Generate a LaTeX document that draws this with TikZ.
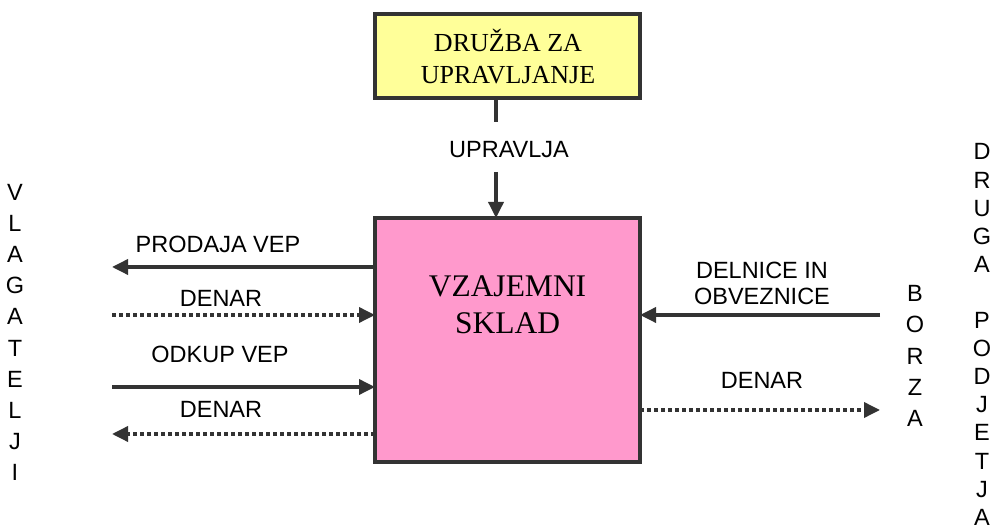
\documentclass[tikz,border=0pt]{standalone}
\usepackage{fontspec}
\setmainfont{Liberation Sans}
\newfontfamily\serifbox{Liberation Serif}
\usetikzlibrary{arrows.meta}
\definecolor{edge}{HTML}{333333}
\definecolor{boxyellow}{HTML}{FFFF99}
\definecolor{boxpink}{HTML}{FF99CC}
\tikzset{
  x=1pt, y=1pt,
  lbl/.style={font=\fontsize{23.5}{26}\selectfont, inner sep=0pt, align=center},
  vcol/.style={inner sep=0pt, align=center},
  mainbox/.style={draw=edge, line width=4pt, inner sep=0pt},
  flow/.style={draw=edge, line width=3.5pt, -{Triangle[length=16pt,width=15pt]}},
  flowdot/.style={flow, dash pattern=on 4pt off 3pt},
}
\begin{document}
\begin{tikzpicture}
\useasboundingbox (0,0) rectangle (992,532);
% boxes
\node[mainbox, fill=boxyellow, minimum width=265pt, minimum height=84pt] (dzu) at (507.5,476) {};
\node[font=\serifbox\fontsize{26}{32}\selectfont, align=center, inner sep=0pt] (dzutxt) at (508,475) {DRUŽBA ZA\\UPRAVLJANJE};
\node[mainbox, fill=boxpink, minimum width=265pt, minimum height=244pt] (vs) at (507.5,192) {};
\node[font=\serifbox\fontsize{31.5}{37}\selectfont, align=center, inner sep=0pt] (vstxt) at (507.5,227) {VZAJEMNI\\SKLAD};
% management arrow
\node[lbl] (upr) at (509,382) {UPRAVLJA};
\coordinate (uprtop) at (496,434);
\coordinate (uprstub) at (496,410);
\coordinate (uprmid) at (496,360);
\coordinate (uprend) at (496,314);
\draw[draw=edge, line width=3.5pt] (uprtop) -- (uprstub);
\draw[flow] (uprmid) -- (uprend);
% left side
\node[vcol, font=\fontsize{23.5}{31.2}\selectfont] (vlag) at (15,199.5) {V\\L\\A\\G\\A\\T\\E\\L\\J\\I};
\coordinate (l1a) at (375,265); \coordinate (l1b) at (112,265);
\coordinate (l2a) at (112,217); \coordinate (l2b) at (375,217);
\coordinate (l3a) at (112,145); \coordinate (l3b) at (375,145);
\coordinate (l4a) at (375,98);  \coordinate (l4b) at (112,98);
\draw[flow] (l1a) -- (l1b);
\draw[flowdot] (l2a) -- (l2b);
\draw[flow] (l3a) -- (l3b);
\draw[flowdot] (l4a) -- (l4b);
\node[lbl] (prodaja) at (218,288) {PRODAJA VEP};
\node[lbl] (denar1) at (221,234) {DENAR};
\node[lbl] (odkup) at (220,178) {ODKUP VEP};
\node[lbl] (denar2) at (221,123) {DENAR};
% right side
\node[vcol, font=\fontsize{23.5}{31.3}\selectfont] (borza) at (915,176) {B\\O\\R\\Z\\A};
\node[vcol, font=\fontsize{23.5}{28.1}\selectfont] (druga) at (982,197.5) {D\\R\\U\\G\\A\\\strut\\P\\O\\D\\J\\E\\T\\J\\A};
\coordinate (r1a) at (880,217); \coordinate (r1b) at (640,217);
\coordinate (r2a) at (640,122); \coordinate (r2b) at (880,122);
\draw[flow] (r1a) -- (r1b);
\draw[flowdot] (r2a) -- (r2b);
\node[lbl] (delnice) at (762,249) {DELNICE IN\\OBVEZNICE};
\node[lbl] (denar3) at (762,152) {DENAR};
\end{tikzpicture}
\end{document}
